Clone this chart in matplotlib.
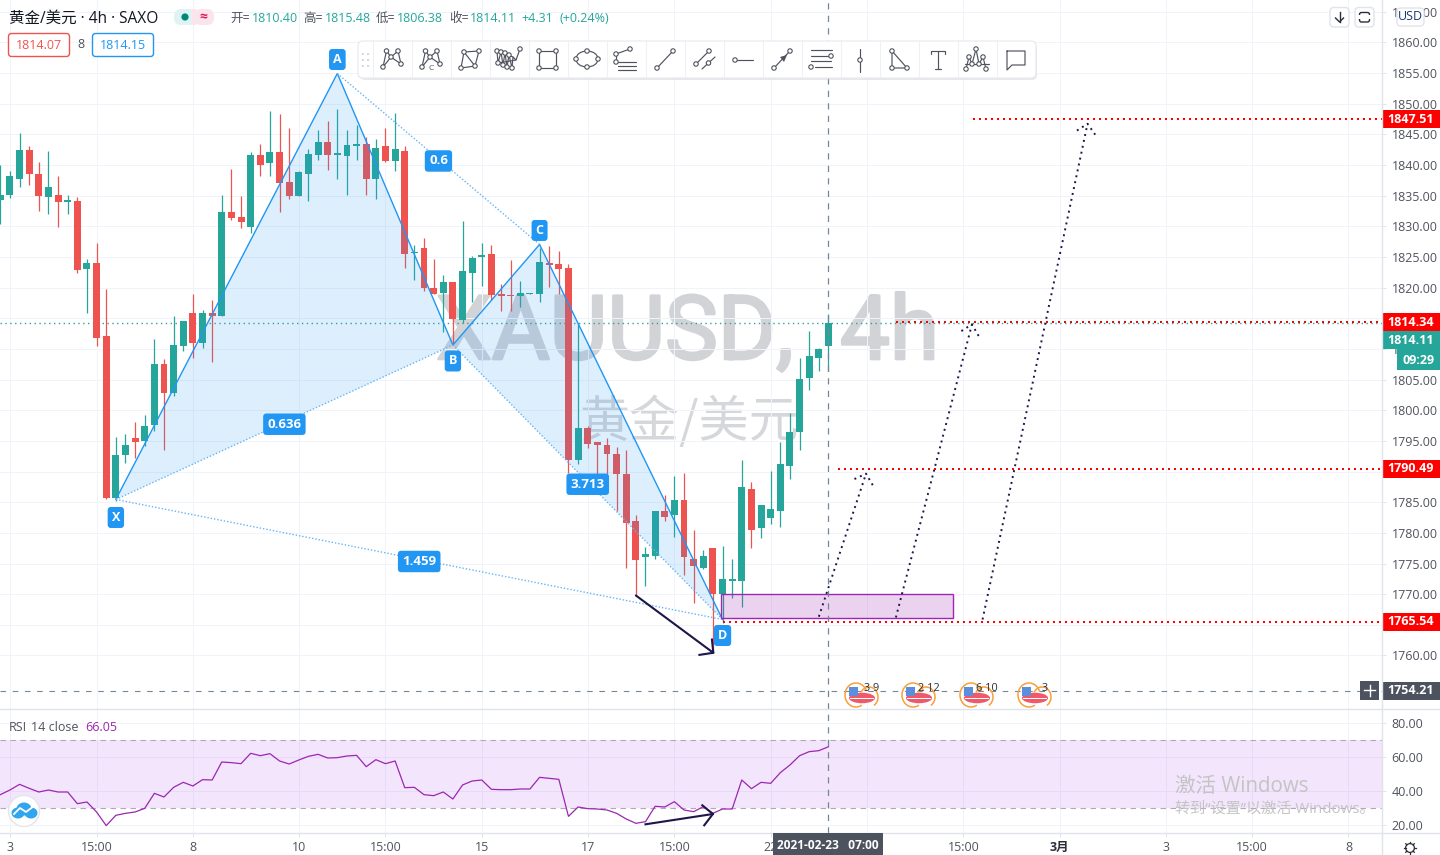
import matplotlib
matplotlib.use("Agg")
import matplotlib.pyplot as plt
import matplotlib.patheffects as pe
from matplotlib.patches import Rectangle, FancyBboxPatch, Circle, Ellipse, Polygon, Arc
from matplotlib.transforms import blended_transform_factory

plt.rcParams['font.family'] = ['Open Sans', 'Noto Sans CJK SC', 'DejaVu Sans']

# ---------- data ----------
opens = [1834.23,1835.04,1837.65,1842.38,1838.47,1834.72,1835.20,1833.95,1834.06,1822.97,1823.95,1812.04,1785.61,1792.63,1795.56,1794.91,1797.52,1807.63,1802.90,1810.41,1815.79,1810.90,1815.95,1815.46,1832.27,1831.45,1829.82,1841.57,1840.26,1842.06,1837.16,1834.88,1838.47,1841.57,1843.69,1841.57,1841.40,1843.04,1843.52,1837.81,1843.04,1840.59,1842.22,1825.58,
         1826.40,1819.87,1819.06,1820.85,1814.65,1822.32,1824.93,1825.42,1818.89,1818.73,1818.57,1818.89,1818.89,1823.95,1823.79,1823.13,1791.97,1797.03,1794.75,1794.26,1792.95,1789.53,1781.86,1775.99,1776.31,1783.49,1782.84,1785.29,1775.82,1774.35,1777.46,1770.11,1772.23,1772.23,1787.24,1780.72,1782.35,1783.49,1790.83,1796.38,1805.19,1808.61,1810.41]
highs = [1839.94,1838.96,1845.16,1843.04,1840.43,1842.22,1838.14,1835.04,1834.82,1824.60,1827.37,1819.71,1795.72,1796.21,1798.01,1799.15,1811.55,1808.29,1815.30,1814.49,1819.05,1816.28,1818.07,1835.04,1839.28,1834.88,1842.06,1843.36,1848.75,1848.26,1845.97,1838.96,1842.55,1845.65,1847.11,1849.07,1845.65,1846.46,1844.50,1844.18,1846.13,1848.53,1843.04,1826.89,
         1828.03,1824.60,1822.15,1820.85,1830.80,1825.09,1827.21,1826.89,1820.52,1824.44,1821.01,1819.06,1826.40,1826.72,1825.91,1823.79,1814.32,1797.36,1794.75,1795.40,1793.93,1793.60,1782.84,1777.62,1783.49,1786.10,1789.20,1789.85,1780.39,1777.13,1777.46,1777.94,1775.66,1791.81,1788.22,1784.47,1790.02,1794.75,1799.48,1808.61,1812.86,1810.08,1815.63]
lows = [1830.47,1834.55,1836.35,1836.67,1832.59,1831.94,1829.82,1831.94,1822.32,1815.95,1810.41,1785.45,1785.17,1791.48,1792.14,1794.15,1796.70,1793.60,1802.41,1809.59,1808.45,1810.24,1807.80,1815.46,1830.96,1829.66,1828.84,1838.30,1838.14,1832.27,1834.39,1834.88,1834.06,1840.91,1839.12,1837.81,1835.04,1840.91,1835.20,1834.39,1840.43,1838.96,1823.13,1821.18,
        1819.54,1818.89,1812.69,1810.73,1814.16,1817.59,1820.20,1817.91,1816.12,1816.12,1816.93,1818.89,1817.59,1820.03,1818.89,1789.85,1791.16,1793.77,1789.53,1789.53,1783.65,1774.19,1769.79,1771.26,1775.82,1782.02,1779.25,1773.21,1768.64,1774.03,1760.43,1765.22,1769.30,1767.99,1777.46,1779.09,1781.53,1780.88,1788.87,1793.60,1803.39,1806.33,1806.33]
closes = [1835.20,1838.30,1842.38,1838.47,1834.88,1836.35,1833.90,1834.23,1822.81,1823.95,1811.87,1785.77,1792.63,1794.26,1794.75,1797.36,1807.63,1802.90,1810.57,1814.49,1810.90,1815.95,1815.46,1832.27,1831.29,1830.64,1841.57,1839.94,1842.06,1837.00,1834.88,1838.79,1841.73,1843.69,1841.57,1841.89,1843.20,1843.52,1837.81,1842.71,1840.59,1842.55,1825.42,1825.74,
          1819.87,1818.89,1820.85,1814.81,1822.64,1824.77,1825.25,1818.73,1818.57,1818.57,1819.06,1819.06,1824.11,1823.62,1822.97,1791.81,1797.03,1794.58,1794.26,1792.79,1789.53,1781.69,1775.50,1776.48,1783.49,1782.67,1785.29,1775.99,1774.52,1776.15,1769.95,1772.40,1772.40,1787.41,1780.55,1784.47,1783.82,1791.16,1796.38,1805.03,1808.78,1809.92,1814.32]

rsi_values = [37.84,40.59,43.92,41.57,39.41,40.59,39.41,39.41,32.55,33.53,27.65,19.61,25.69,26.86,27.65,29.80,38.63,36.47,42.16,45.10,42.94,46.67,46.47,57.06,56.67,56.08,62.16,60.78,61.96,57.65,55.88,58.24,60.39,61.57,59.41,59.61,60.59,60.98,54.31,58.43,56.08,57.65,41.96,42.16,37.84,37.25,39.41,35.29,43.53,45.88,46.47,40.98,40.78,40.78,41.18,41.18,48.04,47.45,46.86,25.10,30.59,29.61,29.41,28.82,26.86,23.53,20.98,21.96,31.00,30.59,33.73,28.82,27.84,30.78,26.86,29.41,29.41,46.47,41.37,45.10,44.51,50.78,55.29,60.78,63.14,63.73,66.05]

price_ticks = [1760,1765,1770,1775,1780,1785,1790,1795,1800,1805,1810,1815,1820,1825,1830,1835,1840,1845,1850,1855,1860,1865]
rsi_ticks = [20,40,60,80]
time_tick_pos = [1,10,20,31,40,50,61,70,80,90,100,110,121,130,140]
time_tick_labels = ['3','15:00','8','10','15:00','15','17','15:00','22','','15:00','3月','3','15:00','8']

pattern_names = ['X','A','B','C','D']
pattern_x = [12,35,47,56,75]
pattern_y = [1785.45,1854.94,1810.65,1827.05,1765.87]
pattern_ratios = ['0.636','0.6','3.713','1.459']

level_prices = [1847.51,1814.34,1790.49,1765.54]
level_starts = [101,93,87,75]
current_line = 1814.30
zone_x = [74.85,98.9]
zone_y = [1766.17,1770.08]
cross_x = 86
cross_price = 1754.21

# dotted forecast arrows: (start_x, end_x, head_lx, head_rx) and the same for y
up_arrow_x = [(85.0,89.9,88.7,90.6),(93.0,100.9,99.8,101.6),(102.0,112.9,111.8,113.7)]
up_arrow_y = [(1766.33,1789.66,1788.78,1787.78),(1766.20,1814.03,1812.92,1812.10),(1765.87,1846.74,1845.63,1844.96)]
down_arrow_x = [66,74.04,73.9,72.6]
down_arrow_y = [1769.79,1760.44,1762.6,1760.1]
rsi_arrow_x = [67,74,72.9,73.1]
rsi_arrow_y = [20.41,26.47,31.59,19.82]

# ---------- layout ----------
W, H = 1440, 855
PANE_R, MAIN_B, RSI_B = 1382, 709, 833
UP, DOWN = '#26a69a', '#ef5350'
BLUE = '#2196f3'
GRID = '#f0f3fa'
BORDER = '#e0e3eb'
TXT = '#50535e'
DARK = '#4c525e'
CROSS = '#758696'
NAVY = '#1e1548'
PX = 0.72  # one pixel in points
XLIM = (-0.03, 143.48)

fig = plt.figure(figsize=(W/100, H/100), dpi=100, facecolor='white')
ax = fig.add_axes([0, 1-MAIN_B/H, PANE_R/W, MAIN_B/H])
rs = fig.add_axes([0, 1-RSI_B/H, PANE_R/W, (RSI_B-MAIN_B)/H])
ui = fig.add_axes([0, 0, 1, 1], zorder=20)
ui.set_xlim(0, W); ui.set_ylim(H, 0); ui.axis('off'); ui.patch.set_alpha(0)

for a in (ax, rs):
    a.set_xlim(*XLIM)
    a.set_xticks(time_tick_pos)
    a.grid(True, color=GRID, lw=PX)
    a.set_axisbelow(True)
    for s in a.spines.values():
        s.set_visible(False)
    a.yaxis.tick_right()
    a.tick_params(axis='y', length=3, width=PX, color=BORDER, labelcolor=TXT, labelsize=9, pad=4)

ax.set_ylim(1751.27, 1866.93)
ax.set_yticks(price_ticks)
ax.set_yticklabels([f'{v:.2f}' for v in price_ticks])
ax.tick_params(axis='x', length=0, labelbottom=False)

rs.set_ylim(15.29, 88.24)
rs.set_yticks(rsi_ticks)
rs.set_yticklabels([f'{v:.2f}' for v in rsi_ticks])
rs.set_xticklabels(time_tick_labels)
rs.tick_params(axis='x', length=3, width=PX, color=BORDER, labelcolor=TXT, labelsize=9, pad=3)
for lab in rs.get_xticklabels():
    if lab.get_text() == '3月':
        lab.set_fontweight('bold')
        lab.set_color('#2a2e39')

# watermarks under candles
thick = [pe.withStroke(linewidth=2.0, foreground='#d2d3d7')]
for wx, wtxt in [(0.3155, 'XAUUSD,'), (0.6078, '4h')]:
    ax.text(wx, 0.4937, wtxt, transform=ax.transAxes, ha='left', va='baseline',
            fontsize=64, color='#d2d3d7', zorder=0.5, family=['Roboto', 'DejaVu Sans'],
            path_effects=thick)
ax.text(0.4985, 0.4034, '黄金/美元', transform=ax.transAxes, ha='center', va='center',
        fontsize=36, color='#d6d7da', zorder=0.5, family=['Noto Sans CJK SC', 'DejaVu Sans'])

# ---------- candles ----------
idx = list(range(len(closes)))
colors = [UP if c >= o else DOWN for o, c in zip(opens, closes)]
ax.vlines(idx, lows, highs, colors=colors, lw=0.9, zorder=3)
ax.bar(idx, [abs(c-o) for o, c in zip(opens, closes)], bottom=[min(o, c) for o, c in zip(opens, closes)],
       width=0.72, color=colors, linewidth=0, zorder=3)

# ---------- XABCD pattern ----------
def P(i):
    return pattern_x[i], pattern_y[i]
fill = (33/255, 150/255, 243/255, 0.15)
ax.add_patch(Polygon([P(0), P(1), P(2)], closed=True, fc=fill, ec='none', zorder=4))
ax.add_patch(Polygon([P(2), P(3), P(4)], closed=True, fc=fill, ec='none', zorder=4))
ax.plot(pattern_x, pattern_y, color=BLUE, lw=1.0, zorder=5, solid_joinstyle='miter')
dot = (0, (1, 1.4))
ratio_pairs = [(0, 2), (1, 3), (2, 4), (0, 4)]
for (a_i, b_i), txt in zip(ratio_pairs, pattern_ratios):
    ax.plot([pattern_x[a_i], pattern_x[b_i]], [pattern_y[a_i], pattern_y[b_i]], color='#64b5f6',
            lw=1.0, ls=dot, zorder=5)
    mx = (pattern_x[a_i]+pattern_x[b_i])/2
    my = (pattern_y[a_i]+pattern_y[b_i])/2
    ax.annotate(txt, (mx, my), xytext=(0, -2*PX), textcoords='offset points', ha='center', va='center',
                color='white', fontsize=9.5, fontweight='bold', zorder=7,
                family=['Open Sans', 'DejaVu Sans'],
                bbox=dict(boxstyle='round,pad=0.32,rounding_size=0.25', fc=BLUE, ec='none'))
letter_offset_px = [-18, 14, -16, 14, -16]
for i, name in enumerate(pattern_names):
    ax.annotate(name, P(i), xytext=(0, letter_offset_px[i]*PX), textcoords='offset points', ha='center', va='center',
                color='white', fontsize=9, fontweight='bold', zorder=7, annotation_clip=False,
                bbox=dict(boxstyle='round,pad=0.32,rounding_size=0.25', fc=BLUE, ec='none'))

# ---------- levels, zone, arrows ----------
ax.hlines(current_line, *XLIM, color=UP, lw=1.0, linestyles=[(0, (1, 2.5))], zorder=2)
for price, start in zip(level_prices, level_starts):
    ax.plot([start, XLIM[1]], [price, price], color='#ff0000', lw=1.44, ls=(0, (1, 2)), zorder=6)
ax.add_patch(Rectangle((zone_x[0], zone_y[0]), zone_x[1]-zone_x[0], zone_y[1]-zone_y[0],
                       fc=(156/255, 39/255, 176/255, 0.2), ec='#9c27b0', lw=1.0, zorder=5))
for xs, ys in zip(up_arrow_x, up_arrow_y):
    ax.plot(xs[:2], ys[:2], color=NAVY, lw=1.4, ls=(0, (1, 2.1)), zorder=6)
    ax.plot([xs[2], xs[1], xs[3]], [ys[2], ys[1], ys[3]], color=NAVY, lw=1.4, ls=(0, (1, 2.1)), zorder=6)
ax.plot(down_arrow_x[:2], down_arrow_y[:2], color=NAVY, lw=1.5, zorder=6, solid_capstyle='round')
ax.plot([down_arrow_x[2], down_arrow_x[1], down_arrow_x[3]], [down_arrow_y[2], down_arrow_y[1], down_arrow_y[3]],
        color=NAVY, lw=1.5, zorder=6)

# crosshair
for a in (ax, rs):
    a.axvline(cross_x, color=CROSS, lw=0.9, ls=(0, (5, 5)), zorder=8)
ax.axhline(cross_price, color=CROSS, lw=0.8, ls=(0, (5, 6)), zorder=8)

# ---------- RSI ----------
rs.axhspan(30, 70, color=(155/255, 47/255, 238/255, 0.12), lw=0, zorder=1.5)
for lvl in (30, 70):
    rs.axhline(lvl, color='#b2a7bb', lw=0.8, ls=(0, (5, 4)), zorder=2)
rs.plot(idx, rsi_values, color='#9c27b0', lw=0.9, zorder=3)
rs.plot(rsi_arrow_x[:2], rsi_arrow_y[:2], color=NAVY, lw=1.5, zorder=6)
rs.plot([rsi_arrow_x[2], rsi_arrow_x[1], rsi_arrow_x[3]], [rsi_arrow_y[2], rsi_arrow_y[1], rsi_arrow_y[3]],
        color=NAVY, lw=1.5, zorder=6)

# ---------- price tags ----------
tr = blended_transform_factory(ax.transAxes, ax.transData)
TAG_H = 18/6.13
def tag(y, txt, color):
    ax.add_patch(Rectangle((1.0, y-TAG_H/2), W/PANE_R-1, TAG_H, transform=tr, fc=color, ec='none', clip_on=False, zorder=10))
    ax.text(1+(W/PANE_R-1)/2, y, txt, transform=tr, ha='center', va='center', color='white', fontsize=9,
            fontweight='bold', clip_on=False, zorder=11)
for price in level_prices:
    tag(price, f'{price:.2f}', '#ff0000')
tag(1811.45, '1814.11', UP)
tag(cross_price, f'{cross_price:.2f}', DARK)

# ---------- UI chrome (pixel coordinates) ----------
def rect(x0, y0, x1, y1, fc='white', ec='none', lw=0.8, r=0, z=1, alpha=None):
    if r:
        p = FancyBboxPatch((x0, y0), x1-x0, y1-y0, boxstyle=f'round,pad=0,rounding_size={r}', fc=fc, ec=ec, lw=lw, zorder=z, alpha=alpha)
    else:
        p = Rectangle((x0, y0), x1-x0, y1-y0, fc=fc, ec=ec, lw=lw, zorder=z, alpha=alpha)
    ui.add_patch(p)
    return p

def text(x, y, s, color=TXT, size=9, ha='left', weight='normal', z=5, **kw):
    ui.text(x, y, s, color=color, fontsize=size, ha=ha, va='center', fontweight=weight, zorder=z, **kw)

# pane borders
ui.plot([0, W], [MAIN_B, MAIN_B], color=BORDER, lw=1.0, zorder=0.5)
ui.plot([0, W], [RSI_B, RSI_B], color=BORDER, lw=1.0, zorder=0.5)
ui.plot([PANE_R, PANE_R], [0, H], color=BORDER, lw=1.0, zorder=0.5)

# header
text(9, 18.5, '黄金/美元 · 4h · SAXO', color='#131722', size=11.2)
rect(174, 9, 196, 25, fc='#e0f2f1', r=7)
rect(194, 9, 214, 25, fc='#fce4ec', r=7)
rect(192, 9, 196, 25, fc='#fce4ec')
ui.add_patch(Circle((185, 17), 3.6, fc='#00897b', ec='none', zorder=3))
text(203.5, 17, '≈', color='#d81b60', size=10, ha='center', weight='bold')
header_labels = [(230, '开=', TXT), (252, '1810.40', UP), (303, '高=', TXT), (325, '1815.48', UP),
                 (376, '低=', TXT), (397, '1806.38', UP), (449, '收=', TXT), (470, '1814.11', UP),
                 (521, '+4.31', UP), (559, '(+0.24%)', UP)]
for x, s, c in header_labels:
    text(x, 18.5, s, color=c, size=9)
rect(8.5, 33.5, 69.5, 56.5, ec=DOWN, lw=1.0, r=3)
text(39, 45.5, '1814.07', color=DOWN, size=9, ha='center')
text(81, 45, '8', color=TXT, size=9, ha='center')
rect(92.5, 33.5, 153.5, 56.5, ec=BLUE, lw=1.0, r=3)
text(123, 45.5, '1814.15', color=BLUE, size=9, ha='center')

# top-right buttons
rect(1330, 7.5, 1349, 27, ec=BORDER, lw=1.0, r=4)
ui.plot([1339.5, 1339.5], [12, 22], color='#2a2e39', lw=1.0, zorder=5)
ui.plot([1335.5, 1339.5, 1343.5], [18, 22, 18], color='#2a2e39', lw=1.0, zorder=5)
rect(1355, 7.5, 1374, 27, ec=BORDER, lw=1.0, r=4)
rect(1359.5, 12.5, 1369.5, 22, fc='none', ec='#2a2e39', lw=1.0, r=2, z=5)
rect(1357.5, 15.5, 1371.5, 19, fc='white', z=6)
rect(1397, 8, 1424, 26, ec=BORDER, lw=1.0, r=4, z=12)
text(1410.5, 17, 'USD', color='#1a3a70', size=9, ha='center', z=13)

# current-price countdown
rect(1397, 349, W, 370, fc=UP, z=3)
text(1418.5, 360, '09:29', color='white', size=9, ha='center', weight='bold')

# crosshair chrome
rect(1360, 681, 1379, 699.5, fc=DARK, z=3)
ui.plot([1364, 1375], [690, 690], color='white', lw=1.0, zorder=5)
ui.plot([1369.5, 1369.5], [684.5, 695.5], color='white', lw=1.0, zorder=5)
rect(773, 833, 883, H, fc=DARK, z=3)
text(828, 845, '2021-02-23   07:00', color='white', size=8.6, ha='center', weight='bold')

# RSI legend
text(9, 727, 'RSI', color=TXT, size=9)
text(31, 727, '14 close', color=TXT, size=9)
text(85, 727, '66.05', color='#9c27b0', size=9)

# toolbar
rect(360, 43, 1037, 80, fc='#c8ccd4', r=5, z=2, alpha=0.45)
rect(358, 41, 1036, 78, fc='white', ec='#e6e8ee', lw=0.8, r=5, z=3)
for gx in (362, 367):
    for gy in (53, 59, 65):
        ui.add_patch(Rectangle((gx, gy), 2, 2, fc='#d6d8de', ec='none', zorder=4))
IC = '#50535e'
cell_left = 372.5
CELL = 39
def icon(n, paths=(), nodes=()):
    cx, cy = cell_left + CELL*(n+0.5), 60
    for path in paths:
        ui.plot([cx+p[0] for p in path], [cy+p[1] for p in path], color=IC, lw=0.85, zorder=5, solid_capstyle='round')
    for p in nodes:
        ui.add_patch(Circle((cx+p[0], cy+p[1]), 2.2, fc='white', ec=IC, lw=0.8, zorder=6))
    return cx, cy
for n in range(17):
    x = cell_left + CELL*n
    ui.plot([x, x], [41.5, 77.5], color='#eef0f4', lw=0.8, zorder=4)
xab = [(-9, 7), (-5.5, -9), (-1, -3), (6, -9), (9, 4), (-1, -3), (-9, 7)]
icon(0, [xab], xab[:5])
cx, cy = icon(1, [xab], xab[:5])
text(cx+0.5, cy+8, 'C', color=IC, size=6, ha='center', z=7)
icon(2, [[(-9, 8), (-6, -8), (9, -9), (5, 6), (-9, 8)], [(-6, -8), (5, 6)]], [(-9, 8), (-6, -8), (9, -9), (5, 6)])
zig = [(-12, -9), (-11, 3), (-8, -8), (-6, 5), (-4, -7), (-2, 7), (0, -5), (3, 8), (4, -3), (7, 0), (11, -11)]
icon(3, [zig, [(-12, -9), (4, -3)], [(-11, 3), (7, 0)]], [zig[i] for i in (0, 1, 2, 3, 4, 5, 6, 7, 10)])
icon(4, [[(-9, -9), (8, -9), (8, 8), (-9, 8), (-9, -9)]], [(-9, -9), (8, -9), (8, 8), (-9, 8)])
cx, cy = icon(5)
ui.add_patch(Ellipse((cx, cy-1), 22, 16, fc='none', ec=IC, lw=0.85, zorder=5))
for p in [(0, -9), (-11, -1), (11, -1), (0, 7)]:
    ui.add_patch(Circle((cx+p[0], cy+p[1]), 2.2, fc='white', ec=IC, lw=0.8, zorder=6))
icon(6, [[(-10, -6), (4, -11)], [(-10, -6), (-10, 2)], [(-10, 2), (10, 2)], [(-8, 6), (10, 6)], [(-8, 10), (10, 10)]], [(-10, -6), (4, -11), (-10, 2)])
icon(7, [[(-8, 8), (8, -9)]], [(-8, 8), (8, -9)])
icon(8, [[(-8, 4), (5, -9)], [(-2, 9), (11, -3)]], [(-8, 4), (5, -9), (4.5, 3)])
icon(9, [[(-8, 0), (10, 0)]], [(-8, 0)])
cx, cy = icon(10, [[(-8, 8), (8, -9)]], [(-8, 8), (8, -9)])
ui.add_patch(Polygon([(cx+5, cy-5), (cx-2, cy-3), (cx+2, cy+2)], fc=IC, ec='none', zorder=6))
icon(11, [[(-10, -10), (11, -10)], [(-10, -4), (8, -4)], [(-10, 1), (10, 1)], [(-6, 7), (11, 7)]], [(10, -4), (-10, 7)])
icon(12, [[(0, -11), (0, 12)]], [(0, 0)])
icon(13, [[(-7, -9), (-7, 8), (8, 8), (-7, -9)]], [(-7, -9), (-7, 8), (8, 8)])
icon(14, [[(-7, -6), (-7, -9), (7, -9), (7, -6)], [(0, -9), (0, 9)], [(-3, 9), (3, 9)]])
hs = [(-11, 9), (-8, -3), (-5, 4), (-1, -11), (2, 4), (6, -3), (9, 9)]
icon(15, [hs, [(-12, 4), (12, 4)]], hs)
icon(16, [[(-9, -9), (9, -9), (9, 5), (-4, 5), (-9, 10), (-9, -9)]])

# earnings markers
event_x = [862, 919, 977, 1035]
event_txt = ['3 9', '2 12', '6 10', '3']
for ex, et in zip(event_x, event_txt):
    ui.add_patch(Ellipse((ex, 698), 26, 10.5, fc='#ef5a6a', ec='none', zorder=4))
    rect(ex-12, 697.5, ex+12, 699, fc='white', z=4)
    rect(ex-13, 687, ex-4, 696, fc='#5b8fdc', z=4)
    ui.add_patch(Arc((ex-6, 695), 22, 24, theta1=60, theta2=340, ec='#f7a03a', lw=1.1, zorder=5))
    ui.add_patch(Arc((ex+7, 697), 18, 20, theta1=-150, theta2=60, ec='#f7a03a', lw=1.1, zorder=5))
    text(ex+9.5, 688.5, et, color='#2a2e39', size=7.8, ha='center', z=6)

# logo
ui.add_patch(Circle((24, 811), 15.5, fc='white', ec='#e3e5ea', lw=1.0, zorder=4))
ui.add_patch(Ellipse((18, 813), 13, 11, fc='#31a5f0', ec='none', zorder=5))
ui.add_patch(Ellipse((31, 813), 13, 11, fc='#31a5f0', ec='none', zorder=5))
ui.add_patch(Ellipse((24, 809), 15, 13, fc='#31a5f0', ec='none', zorder=5))
ui.plot([14, 20, 26, 34], [814, 808, 812, 806], color='white', lw=1.3, zorder=6)

# gear
ui.add_patch(Circle((1410, 848), 4.4, fc='white', ec='#2a2e39', lw=0.9, zorder=5))
for dx, dy in [(0, -6.5), (0, 6.5), (-6, 0), (6, 0), (-4.3, -4.3), (4.3, -4.3), (-4.3, 4.3), (4.3, 4.3)]:
    ui.plot([1410+dx*0.72, 1410+dx], [848+dy*0.72, 848+dy], color='#2a2e39', lw=0.9, zorder=5)

# Windows activation watermark
text(1175, 786, '激活 Windows', color='#c4c4c4', size=14.8, z=15, family=['Open Sans', 'Noto Sans CJK SC', 'DejaVu Sans'])
text(1175, 809.5, '转到“设置”以激活 Windows。', color='#c4c4c4', size=10.9, z=15, family=['Open Sans', 'Noto Sans CJK SC', 'DejaVu Sans'])

fig.savefig('out.png', dpi=100, facecolor='white')
